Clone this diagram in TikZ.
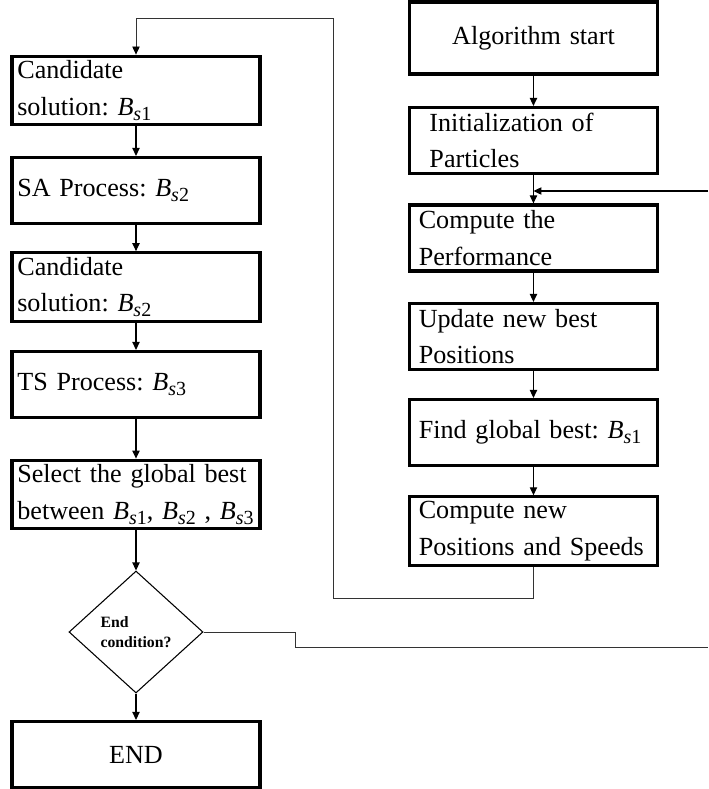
\documentclass[tikz,border=0pt]{standalone}
\usepackage{amsmath}
\usepackage{fontspec}
\setmainfont{Liberation Serif}
\usetikzlibrary{positioning,shapes.geometric,arrows.meta}
% B with index s<n>, set as text
\newcommand{\Bsub}[1]{\textit{B}\raisebox{-0.4ex}{\fontsize{15}{15}\selectfont\textit{s}#1}}

\begin{document}
\begin{tikzpicture}[on grid, auto,
    >={Triangle[width=5.5pt,length=6pt]},
    procbox/.style={draw, line width=2.4pt, text width=178pt, inner xsep=4pt,
      minimum height=49.5pt, align=left, font=\fontsize{19.6}{27.5}\selectfont\frenchspacing},
    psobox/.style={procbox, text width=172pt, inner xsep=7pt},
    decision/.style={diamond, draw, line width=0.8pt, minimum width=100.5pt,
      minimum height=91.5pt, inner sep=0pt, align=left,
      font=\fontsize{11.8}{15}\selectfont\bfseries},
    flow/.style={->, line width=0.8pt},
    back/.style={line width=0.6pt, black!80}]
    \useasboundingbox (0,0) rectangle (531pt,-591.75pt);
    % hybrid part (left)
    \node[procbox] (b1) at (102pt,-67.9pt) {Candidate\\solution: \Bsub{1}};
    \node[procbox] (b2) [below=75pt of b1] {SA Process: \Bsub{2}};
    \node[procbox] (b3) [below=72.4pt of b2] {Candidate\\solution: \Bsub{2}};
    \node[procbox] (b4) [below=73.1pt of b3] {TS Process: \Bsub{3}};
    \node[procbox] (b5) [below=82.5pt of b4] {Select the global best\\\mbox{between \Bsub{1}, \Bsub{2} , \Bsub{3}}};
    \node[decision] (dia) [below=103.1pt of b5] {End\\condition?};
    \node[procbox, align=center] (fin) [below=91.9pt of dia] {END};
    % PSO part (right)
    \node[psobox, align=center, minimum height=54pt] (start) at (400.1pt,-28.5pt) {Algorithm start};
    \node[psobox] (init) [below=76.9pt of start] {\hspace{8pt}Initialization of\\\hspace{8pt}Particles};
    \node[psobox] (perf) [below=73.1pt of init] {Compute the\\Performance};
    \node[psobox] (upd) [below=73.9pt of perf] {Update new best\\Positions};
    \node[psobox] (gbest) [below=72pt of upd] {\mbox{Find global best: \Bsub{1}}};
    \node[psobox] (newpos) [below=73.9pt of gbest] {Compute new\\\mbox{Positions and Speeds}};
    \coordinate (loopbot) at (249.75pt,-448.5pt);
    \coordinate (looptop) at (249.75pt,-13.5pt);
    \coordinate (retin) at (531pt,-143.25pt);
    \coordinate (stepx) at (221.25pt,-485.25pt);
    \coordinate (exitr) at (531pt,-485.25pt);
    \path[flow]
     (start) edge (init)
     (init) edge (perf)
     (perf) edge (upd)
     (upd) edge (gbest)
     (gbest) edge (newpos)
     (b1) edge (b2)
     (b2) edge (b3)
     (b3) edge (b4)
     (b4) edge (b5)
     (b5) edge (dia)
     (dia) edge (fin);
    \draw[flow] (retin) -- (retin -| perf.north);
    \draw[back, -{Triangle[width=5.5pt,length=6pt,black]}] (newpos.south) |- (loopbot) -- (looptop) -| (b1.north);
    \draw[back] (dia.east) -| (stepx) -- (exitr);
\end{tikzpicture}
\end{document}
